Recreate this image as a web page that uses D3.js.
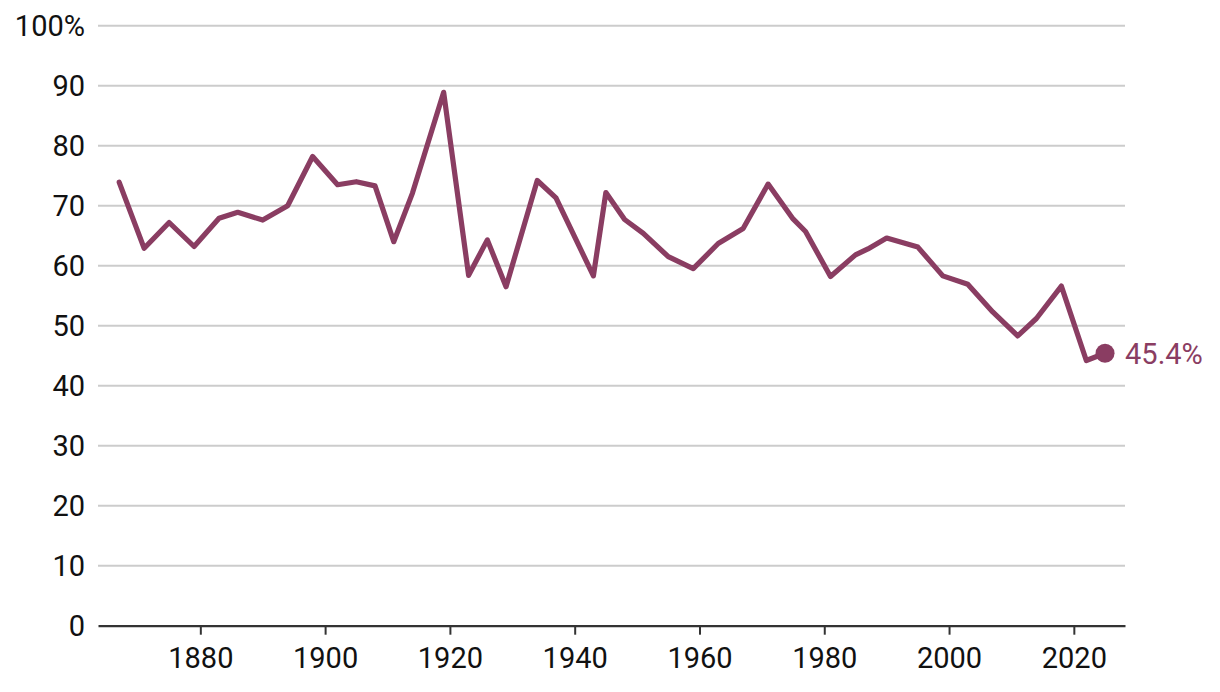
<!DOCTYPE html>
<html>
<head>
<meta charset="utf-8">
<script src="https://cdn.jsdelivr.net/npm/d3@7"></script>
<style>
  html, body { margin: 0; padding: 0; background: #fff; }
  svg { display: block; }
  text { font-family: Roboto, "Noto Sans", sans-serif; }
</style>
</head>
<body>
<svg id="chart" width="1220" height="692"></svg>
<script>
// Data: Ontario general election voter turnout (%)
const years = [1867, 1871, 1875, 1879, 1883, 1886, 1890, 1894, 1898, 1902, 1905, 1908, 1911, 1914, 1919,
  1923, 1926, 1929, 1934, 1937, 1943, 1945, 1948, 1951, 1955, 1959, 1963, 1967, 1971, 1975, 1977,
  1981, 1985, 1987, 1990, 1995, 1999, 2003, 2007, 2011, 2014, 2018, 2022, 2025];
const turnout = [73.9, 62.9, 67.2, 63.2, 67.9, 68.9, 67.6, 70.0, 78.2, 73.5, 74.0, 73.3, 64.0, 72.1, 88.9,
  58.4, 64.3, 56.5, 74.2, 71.3, 58.3, 72.2, 67.7, 65.4, 61.5, 59.5, 63.7, 66.2, 73.6, 67.8, 65.7,
  58.2, 61.8, 62.8, 64.6, 63.1, 58.3, 56.9, 52.3, 48.3, 51.2, 56.6, 44.2, 45.4];
const yTicks = [0, 10, 20, 30, 40, 50, 60, 70, 80, 90, 100];
const xTicks = [1880, 1900, 1920, 1940, 1960, 1980, 2000, 2020];
const lastLabel = "45.4%";

const color = "#8a3d62";
const fontSize = 29;
const svg = d3.select("#chart");

const x = d3.scaleLinear().domain([1863.6, 2028.2]).range([98, 1125]);
const y = d3.scaleLinear().domain([0, 100]).range([625.7, 25.7]);

// Gridlines
svg.append("g")
  .selectAll("line")
  .data(yTicks.filter(d => d > 0))
  .join("line")
  .attr("x1", 98).attr("x2", 1125)
  .attr("y1", d => y(d)).attr("y2", d => y(d))
  .attr("stroke", "#cccccc").attr("stroke-width", 2);

// Y labels
svg.append("g")
  .selectAll("text")
  .data(yTicks)
  .join("text")
  .attr("x", 85)
  .attr("y", d => y(d))
  .attr("dy", "0.36em")
  .attr("text-anchor", "end")
  .attr("font-size", fontSize)
  .attr("fill", "#111")
  .text(d => d === 100 ? "100%" : d);

// X axis
const xAxis = d3.axisBottom(x).tickValues(xTicks).tickFormat(d3.format("d"))
  .tickSizeInner(9).tickSizeOuter(0).tickPadding(13);
const gx = svg.append("g").attr("transform", `translate(0,${y(0)})`).call(xAxis);
gx.select(".domain").attr("stroke", "#333").attr("stroke-width", 2.2);
gx.selectAll(".tick line").attr("stroke", "#333").attr("stroke-width", 2);
gx.selectAll(".tick text").attr("font-size", fontSize).attr("fill", "#111")
  .attr("font-family", "Roboto, 'Noto Sans', sans-serif");

// Line
const data = years.map((yr, i) => ({ yr, v: turnout[i] }));
const line = d3.line().x(d => x(d.yr)).y(d => y(d.v));
svg.append("path")
  .datum(data)
  .attr("d", line)
  .attr("fill", "none")
  .attr("stroke", color)
  .attr("stroke-width", 5.2)
  .attr("stroke-linejoin", "round")
  .attr("stroke-linecap", "round");

// End point
const last = data[data.length - 1];
svg.append("circle")
  .attr("cx", x(last.yr)).attr("cy", y(last.v))
  .attr("r", 9.5).attr("fill", color);
svg.append("text")
  .attr("x", x(last.yr) + 20)
  .attr("y", y(last.v))
  .attr("dy", "0.36em")
  .attr("font-size", fontSize)
  .attr("fill", color)
  .text(lastLabel);
</script>
</body>
</html>
